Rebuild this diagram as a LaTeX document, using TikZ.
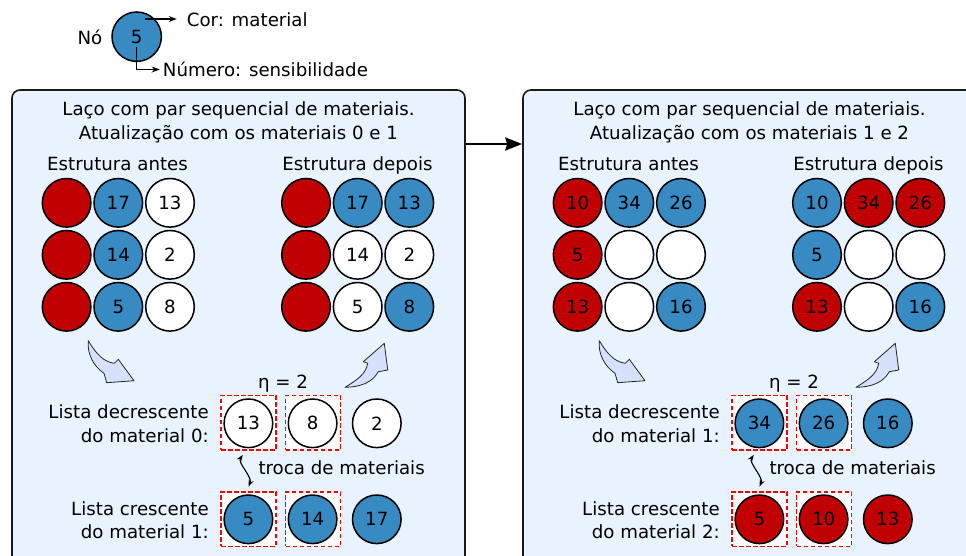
\documentclass[tikz,border=0pt]{standalone}
\usepackage{fontspec}
\setmainfont{DejaVu Sans}
\usetikzlibrary{arrows.meta}
\definecolor{cred}{RGB}{192,0,0}
\definecolor{cblue}{RGB}{55,139,194}
\definecolor{panelfill}{RGB}{232,243,255}
\definecolor{fatfill}{RGB}{214,226,251}
\definecolor{dashred}{RGB}{240,0,0}
\newcommand\mkc[5]{\node[cnode,fill=#4] (#1) at (#2,#3) {#5};}
\begin{document}
\begin{tikzpicture}[x=1pt,y=-1pt,font=\fontsize{18.2}{23.5}\selectfont,
  cnode/.style={circle,draw=black,line width=1.5pt,minimum size=48.6pt,inner sep=0pt},
  panel/.style={draw=black!90,line width=1.6pt,fill=panelfill,rounded corners=8pt,minimum width=453pt,minimum height=485pt,inner sep=0pt},
  sel/.style={draw=dashred,fill=white,dash pattern=on 4.5pt off 2.5pt,line width=1.5pt,minimum width=55pt,minimum height=54.5pt,inner sep=0pt},
  fat/.style={fill=fatfill,draw=black!85,line width=0.8pt,line join=round},
  legarrow/.style={line width=1.1pt,-{Stealth[length=8pt,width=6pt]}},
  dbl/.style={line width=1.1pt,{Stealth[length=7pt,width=5pt]}-{Stealth[length=7pt,width=5pt]},shorten <=5pt,shorten >=5pt},
  lbl/.style={inner sep=0pt}]
\useasboundingbox (0,0) rectangle (966,556);

% legend
\node[cnode,fill=cblue,minimum size=49.4pt] (leg) at (136.7,36.7) {5};
\node[lbl] (nolbl) at (90,37.3) {Nó};
\node[lbl,anchor=west] (cor) at (186.7,20) {Cor: material};
\node[lbl,anchor=west] (num) at (162.7,69.5) {Número: sensibilidade};
\coordinate (cs) at (145,19);
\draw[legarrow,shorten >=10pt] (cs) -- (cs -| cor.west);
\draw[legarrow] ([yshift=-10pt]leg.center) |- ([xshift=-3pt]num.west);

% panels
\node[panel] (p1) at (238.5,332.5) {};
\node[panel] (p2) at (749.5,332.5) {};
\coordinate (arr) at (0,144);
\draw[line width=2pt,-{Stealth[length=17pt,width=13pt,inset=2pt]}] (p1.east |- arr) -- (p2.west |- arr);

% ===== left panel =====
\node[lbl,align=center] (t1) at (238.5,122.5) {Laço com par sequencial de materiais.\\Atualização com os materiais 0 e 1};
\node[lbl] (ea1) at (117.5,164) {Estrutura antes};
\node[lbl] (ed1) at (357.5,165.8) {Estrutura depois};
% before
\mkc{a11}{66.6}{202.8}{cred}{}
\mkc{a12}{118.3}{202.8}{cblue}{17}
\mkc{a13}{170}{202.8}{white}{13}
\mkc{a21}{66.6}{254.8}{cred}{}
\mkc{a22}{118.3}{254.8}{cblue}{14}
\mkc{a23}{170}{254.8}{white}{2}
\mkc{a31}{66.6}{306.8}{cred}{}
\mkc{a32}{118.3}{306.8}{cblue}{5}
\mkc{a33}{170}{306.8}{white}{8}
% after
\mkc{b11}{306}{202.8}{cred}{}
\mkc{b12}{357.7}{202.8}{cblue}{17}
\mkc{b13}{409.3}{202.8}{cblue}{13}
\mkc{b21}{306}{254.8}{cred}{}
\mkc{b22}{357.7}{254.8}{white}{14}
\mkc{b23}{409.3}{254.8}{white}{2}
\mkc{b31}{306}{306.8}{cred}{}
\mkc{b32}{357.7}{306.8}{white}{5}
\mkc{b33}{409.3}{306.8}{cblue}{8}
% fat arrows
\draw[fat] (88.3,340.7) .. controls (96,354) and (104,362) .. (114.3,363.3) -- (118.3,359.3) -- (134,380.7) -- (106.7,382.7) -- (104,373.3) .. controls (93,366) and (87,353) .. cycle;
\draw[fat] (345,387.3) .. controls (357,380) and (366,374) .. (367.7,363.3) -- (363.3,361.7) -- (384.3,343.3) -- (387.7,370) -- (378.3,371.7) .. controls (372,383) and (360,387) .. cycle;
% lists
\node[lbl] (eta1) at (283,384) {η = 2};
\node[sel] (sd1) at (248.5,422.7) {};
\node[sel] (sd2) at (313,422.7) {};
\node[sel] (sc1) at (248.5,519.2) {};
\node[sel] (sc2) at (313,519.2) {};
\mkc{d1}{248.4}{423.3}{white}{13}
\mkc{d2}{312.6}{423.3}{white}{8}
\mkc{d3}{376.8}{423.3}{white}{2}
\mkc{c1}{248.4}{519.3}{cblue}{5}
\mkc{c2}{312.6}{519.3}{cblue}{14}
\mkc{c3}{376.8}{519.3}{cblue}{17}
\node[lbl,align=right,anchor=east] (ld1) at (209,423.8) {Lista decrescente\\do material 0:};
\node[lbl,align=right,anchor=east] (lc1) at (209,520) {Lista crescente\\do material 1:};
\draw[dbl] ([xshift=-3pt]sd1.south) .. controls +(-8,12) and +(6,-14) .. ([xshift=-2pt]sc1.north);
\node[lbl,anchor=west] (tr1) at (258.3,467.7) {troca de materiais};

% ===== right panel =====
\node[lbl,align=center] (t2) at (749.5,122.5) {Laço com par sequencial de materiais.\\Atualização com os materiais 1 e 2};
\node[lbl] (ea2) at (628.5,164) {Estrutura antes};
\node[lbl] (ed2) at (868.5,165.8) {Estrutura depois};
\mkc{e11}{577.6}{202.8}{cred}{10}
\mkc{e12}{629.3}{202.8}{cblue}{34}
\mkc{e13}{681}{202.8}{cblue}{26}
\mkc{e21}{577.6}{254.8}{cred}{5}
\mkc{e22}{629.3}{254.8}{white}{}
\mkc{e23}{681}{254.8}{white}{}
\mkc{e31}{577.6}{306.8}{cred}{13}
\mkc{e32}{629.3}{306.8}{white}{}
\mkc{e33}{681}{306.8}{cblue}{16}
\mkc{f11}{817}{202.8}{cblue}{10}
\mkc{f12}{868.7}{202.8}{cred}{34}
\mkc{f13}{920.3}{202.8}{cred}{26}
\mkc{f21}{817}{254.8}{cblue}{5}
\mkc{f22}{868.7}{254.8}{white}{}
\mkc{f23}{920.3}{254.8}{white}{}
\mkc{f31}{817}{306.8}{cred}{13}
\mkc{f32}{868.7}{306.8}{white}{}
\mkc{f33}{920.3}{306.8}{cblue}{16}
\begin{scope}[xshift=511pt]
\draw[fat] (88.3,340.7) .. controls (96,354) and (104,362) .. (114.3,363.3) -- (118.3,359.3) -- (134,380.7) -- (106.7,382.7) -- (104,373.3) .. controls (93,366) and (87,353) .. cycle;
\draw[fat] (345,387.3) .. controls (357,380) and (366,374) .. (367.7,363.3) -- (363.3,361.7) -- (384.3,343.3) -- (387.7,370) -- (378.3,371.7) .. controls (372,383) and (360,387) .. cycle;
\end{scope}
\node[lbl] (eta2) at (794,384) {η = 2};
\node[sel] (sd3) at (759.5,422.7) {};
\node[sel] (sd4) at (824,422.7) {};
\node[sel] (sc3) at (759.5,519.2) {};
\node[sel] (sc4) at (824,519.2) {};
\mkc{g1}{759.4}{423.3}{cblue}{34}
\mkc{g2}{823.6}{423.3}{cblue}{26}
\mkc{g3}{887.8}{423.3}{cblue}{16}
\mkc{h1}{759.4}{519.3}{cred}{5}
\mkc{h2}{823.6}{519.3}{cred}{10}
\mkc{h3}{887.8}{519.3}{cred}{13}
\node[lbl,align=right,anchor=east] (ld2) at (720,423.8) {Lista decrescente\\do material 1:};
\node[lbl,align=right,anchor=east] (lc2) at (720,520) {Lista crescente\\do material 2:};
\draw[dbl] ([xshift=-3pt]sd3.south) .. controls +(-8,12) and +(6,-14) .. ([xshift=-2pt]sc3.north);
\node[lbl,anchor=west] (tr2) at (769.3,467.7) {troca de materiais};
\end{tikzpicture}
\end{document}
